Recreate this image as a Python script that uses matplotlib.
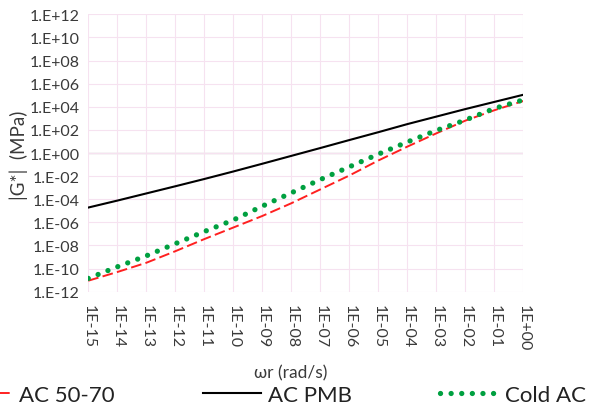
import numpy as np
import matplotlib
matplotlib.use("Agg")
import matplotlib.pyplot as plt
from matplotlib.ticker import FixedLocator, FuncFormatter

plt.rcParams['font.family'] = ['Lato', 'DejaVu Sans']

# reduced frequency, one point per decade
log_wr = [-15, -14, -13, -12, -11, -10, -9, -8, -7, -6, -5, -4, -3, -2, -1, 0]
# log10 |G*|
log_ac5070 = [-11.05, -10.3, -9.5, -8.5, -7.45, -6.45, -5.45, -4.35, -3.15, -1.95,
              -0.65, 0.55, 1.7, 2.8, 3.7, 4.5]
log_acpmb = [-4.72, -4.12, -3.5, -2.88, -2.25, -1.6, -0.93, -0.25, 0.43, 1.12,
             1.8, 2.5, 3.15, 3.8, 4.42, 5.04]
log_coldac = [-10.85, -9.85, -8.9, -7.85, -6.8, -5.8, -4.6, -3.45, -2.3, -1.2,
              -0.1, 0.95, 1.95, 2.85, 3.85, 4.6]

wr = 10.0 ** np.array(log_wr)
g1 = 10.0 ** np.array(log_ac5070)
g2 = 10.0 ** np.array(log_acpmb)
g3 = 10.0 ** np.array(log_coldac)

txt = '#3a3a3a'

fig = plt.figure(figsize=(5.92, 4.14), dpi=100)
ax = fig.add_axes([0.149, 0.293, 0.735, 0.670])

ax.plot(wr, g1, color='#ff2020', lw=1.4, ls=(0, (5.5, 2.2)), label='AC 50-70', zorder=3)
ax.plot(wr, g2, color='black', lw=1.5, label='AC PMB', zorder=3)
ax.plot(wr, g3, color='#00a040', lw=3.8, ls=(0, (0.01, 2.0)),
        dash_capstyle='round', label='Cold AC', zorder=4)

ax.set_xscale('log')
ax.set_yscale('log')
ax.set_xlim(1e-15, 1e0)
ax.set_ylim(1e-12, 1e12)

ax.xaxis.set_major_locator(FixedLocator(10.0 ** np.arange(-15, 1)))
ax.yaxis.set_major_locator(FixedLocator(10.0 ** np.arange(-12, 13, 2)))
ax.xaxis.set_minor_locator(FixedLocator([]))
ax.yaxis.set_minor_locator(FixedLocator([]))


def fmt_y(v, pos):
    e = int(round(np.log10(v)))
    return "1.E%+03d" % e


def fmt_x(v, pos):
    e = int(round(np.log10(v)))
    return "1E%+03d" % e


ax.yaxis.set_major_formatter(FuncFormatter(fmt_y))
ax.xaxis.set_major_formatter(FuncFormatter(fmt_x))

ax.tick_params(axis='both', length=0, labelsize=11.5, colors=txt)
ax.tick_params(axis='y', pad=6)
ax.tick_params(axis='x', pad=9, labelrotation=-90)

for s in ax.spines.values():
    s.set_visible(False)
ax.grid(True, color='#f6e2f0', lw=0.8, zorder=0)
ax.axhline(1, color='#dac8d4', lw=1.0, zorder=1)

ax.set_ylabel('|G*|  (MPa)', fontsize=13.5, color=txt)
ax.yaxis.set_label_coords(-0.138, 0.495)
ax.set_xlabel('ωr (rad/s)', fontsize=12.5, color=txt)
ax.xaxis.set_label_coords(0.466, -0.26)

fig.legend(loc='center', bbox_to_anchor=(270 / 592, 1 - 396 / 414), ncol=3,
           frameon=False, fontsize=16, handlelength=2.6, handletextpad=0.3,
           columnspacing=4.0, labelcolor='#222222')

fig.savefig('out.png', dpi=100)
